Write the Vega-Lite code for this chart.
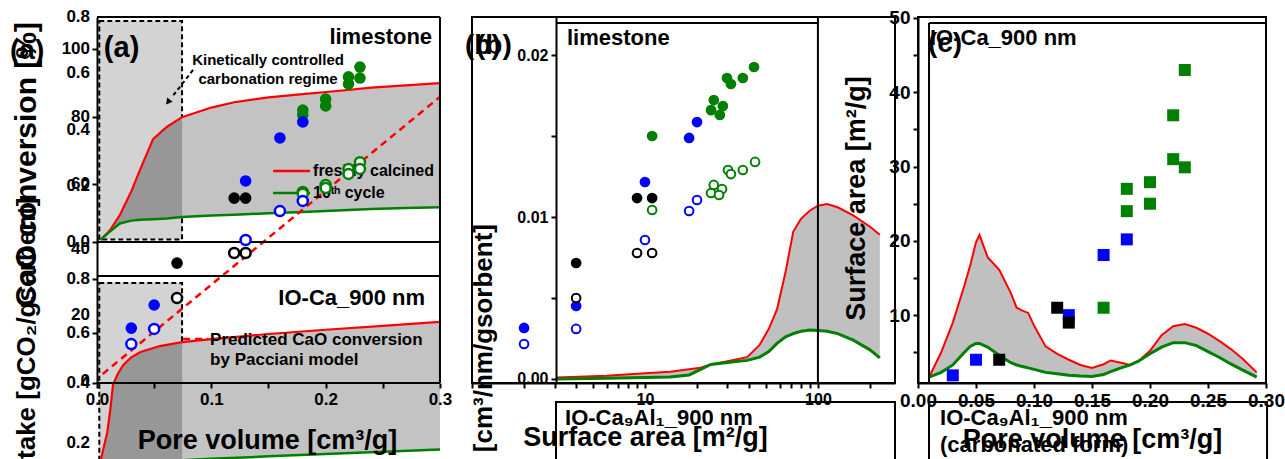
{
"$schema": "https://vega.github.io/schema/vega-lite/v6.json",
"background": "white",
"padding": {"left": 10, "top": 7, "right": 5, "bottom": 5},
"spacing": 23,
"bounds": "flush",
"config": {
  "font": "Liberation Sans",
  "axis": {"labelFontWeight": "bold", "titleFontWeight": "bold", "labelColor": "black", "titleColor": "black", "domainColor": "black", "tickColor": "black", "domainWidth": 2, "tickWidth": 2, "tickSize": 5, "labelPadding": 3, "grid": false, "zindex": 1, "labelOverlap": false, "labelFlush": false},
  "view": {"stroke": "black", "strokeWidth": 2},
  "text": {"fontWeight": "bold", "color": "black", "font": "Liberation Sans"}
},
"datasets": {
  "a_ticks": [
    {"tick": 0.8, "label": "0.8"},
    {"tick": 0.6862, "label": "100"},
    {"tick": 0.6, "label": "0.6"},
    {"tick": 0.4444, "label": "80"},
    {"tick": 0.4, "label": "0.4"},
    {"tick": 0.205, "label": "60"},
    {"tick": 0.2, "label": "0.2"},
    {"tick": 0, "label": "0.0"},
    {"tick": -0.025, "label": "40"},
    {"tick": -0.1316, "label": "0.8"},
    {"tick": -0.2596, "label": "20"},
    {"tick": -0.3236, "label": "0.6"},
    {"tick": -0.494, "label": "0"},
    {"tick": -0.5013, "label": "0.4"},
    {"tick": -0.7164, "label": "0.2"}
  ],
  "a_pts": [
    {"series": "S1", "state": "fresh", "pv": 0.18, "uptake": 0.469},
    {"series": "S1", "state": "fresh", "pv": 0.18, "uptake": 0.452},
    {"series": "S1", "state": "fresh", "pv": 0.2, "uptake": 0.508},
    {"series": "S1", "state": "fresh", "pv": 0.2, "uptake": 0.484},
    {"series": "S1", "state": "fresh", "pv": 0.22, "uptake": 0.587},
    {"series": "S1", "state": "fresh", "pv": 0.22, "uptake": 0.562},
    {"series": "S1", "state": "fresh", "pv": 0.23, "uptake": 0.622},
    {"series": "S1", "state": "fresh", "pv": 0.23, "uptake": 0.583},
    {"series": "S2", "state": "fresh", "pv": 0.16, "uptake": 0.37},
    {"series": "S2", "state": "fresh", "pv": 0.18, "uptake": 0.427},
    {"series": "S2", "state": "fresh", "pv": 0.13, "uptake": 0.217},
    {"series": "S2", "state": "fresh", "pv": 0.05, "uptake": -0.224},
    {"series": "S2", "state": "fresh", "pv": 0.03, "uptake": -0.306},
    {"series": "S3", "state": "fresh", "pv": 0.12, "uptake": 0.156},
    {"series": "S3", "state": "fresh", "pv": 0.13, "uptake": 0.156},
    {"series": "S3", "state": "fresh", "pv": 0.07, "uptake": -0.075},
    {"series": "S1", "state": "cycled", "pv": 0.18, "uptake": 0.178},
    {"series": "S1", "state": "cycled", "pv": 0.18, "uptake": 0.172},
    {"series": "S1", "state": "cycled", "pv": 0.2, "uptake": 0.203},
    {"series": "S1", "state": "cycled", "pv": 0.2, "uptake": 0.192},
    {"series": "S1", "state": "cycled", "pv": 0.22, "uptake": 0.26},
    {"series": "S1", "state": "cycled", "pv": 0.22, "uptake": 0.242},
    {"series": "S1", "state": "cycled", "pv": 0.23, "uptake": 0.284},
    {"series": "S1", "state": "cycled", "pv": 0.23, "uptake": 0.26},
    {"series": "S2", "state": "cycled", "pv": 0.16, "uptake": 0.11},
    {"series": "S2", "state": "cycled", "pv": 0.18, "uptake": 0.146},
    {"series": "S2", "state": "cycled", "pv": 0.13, "uptake": 0.007},
    {"series": "S2", "state": "cycled", "pv": 0.05, "uptake": -0.309},
    {"series": "S2", "state": "cycled", "pv": 0.03, "uptake": -0.363},
    {"series": "S3", "state": "cycled", "pv": 0.12, "uptake": -0.039},
    {"series": "S3", "state": "cycled", "pv": 0.13, "uptake": -0.039},
    {"series": "S3", "state": "cycled", "pv": 0.07, "uptake": -0.199}
  ],
  "a_band": [
    {"sample": "limestone", "zone": "kinetic", "pv": 0.003, "fresh": 0.007, "cycled": 0.007},
    {"sample": "limestone", "zone": "kinetic", "pv": 0.011, "fresh": 0.04, "cycled": 0.036},
    {"sample": "limestone", "zone": "kinetic", "pv": 0.02, "fresh": 0.096, "cycled": 0.066},
    {"sample": "limestone", "zone": "kinetic", "pv": 0.03, "fresh": 0.18, "cycled": 0.076},
    {"sample": "limestone", "zone": "kinetic", "pv": 0.038, "fresh": 0.26, "cycled": 0.079},
    {"sample": "limestone", "zone": "kinetic", "pv": 0.049, "fresh": 0.366, "cycled": 0.081},
    {"sample": "limestone", "zone": "kinetic", "pv": 0.061, "fresh": 0.409, "cycled": 0.084},
    {"sample": "limestone", "zone": "kinetic", "pv": 0.0744, "fresh": 0.444, "cycled": 0.089},
    {"sample": "limestone", "zone": "diffusion", "pv": 0.0744, "fresh": 0.444, "cycled": 0.089},
    {"sample": "limestone", "zone": "diffusion", "pv": 0.1, "fresh": 0.478, "cycled": 0.094},
    {"sample": "limestone", "zone": "diffusion", "pv": 0.12, "fresh": 0.497, "cycled": 0.097},
    {"sample": "limestone", "zone": "diffusion", "pv": 0.15, "fresh": 0.514, "cycled": 0.102},
    {"sample": "limestone", "zone": "diffusion", "pv": 0.18, "fresh": 0.526, "cycled": 0.107},
    {"sample": "limestone", "zone": "diffusion", "pv": 0.21, "fresh": 0.537, "cycled": 0.112},
    {"sample": "limestone", "zone": "diffusion", "pv": 0.24, "fresh": 0.549, "cycled": 0.117},
    {"sample": "limestone", "zone": "diffusion", "pv": 0.27, "fresh": 0.557, "cycled": 0.121},
    {"sample": "limestone", "zone": "diffusion", "pv": 0.3, "fresh": 0.565, "cycled": 0.124},
    {"sample": "IO-Ca", "zone": "kinetic", "pv": 0.003, "fresh": -0.78, "cycled": -0.8},
    {"sample": "IO-Ca", "zone": "kinetic", "pv": 0.009, "fresh": -0.676, "cycled": -0.795},
    {"sample": "IO-Ca", "zone": "kinetic", "pv": 0.0115, "fresh": -0.6, "cycled": -0.79},
    {"sample": "IO-Ca", "zone": "kinetic", "pv": 0.014, "fresh": -0.508, "cycled": -0.788},
    {"sample": "IO-Ca", "zone": "kinetic", "pv": 0.018, "fresh": -0.47, "cycled": -0.786},
    {"sample": "IO-Ca", "zone": "kinetic", "pv": 0.023, "fresh": -0.437, "cycled": -0.785},
    {"sample": "IO-Ca", "zone": "kinetic", "pv": 0.03, "fresh": -0.41, "cycled": -0.783},
    {"sample": "IO-Ca", "zone": "kinetic", "pv": 0.038, "fresh": -0.391, "cycled": -0.781},
    {"sample": "IO-Ca", "zone": "kinetic", "pv": 0.055, "fresh": -0.37, "cycled": -0.779},
    {"sample": "IO-Ca", "zone": "kinetic", "pv": 0.0744, "fresh": -0.356, "cycled": -0.776},
    {"sample": "IO-Ca", "zone": "diffusion", "pv": 0.0744, "fresh": -0.356, "cycled": -0.776},
    {"sample": "IO-Ca", "zone": "diffusion", "pv": 0.1, "fresh": -0.345, "cycled": -0.771},
    {"sample": "IO-Ca", "zone": "diffusion", "pv": 0.15, "fresh": -0.327, "cycled": -0.762},
    {"sample": "IO-Ca", "zone": "diffusion", "pv": 0.2, "fresh": -0.312, "cycled": -0.754},
    {"sample": "IO-Ca", "zone": "diffusion", "pv": 0.25, "fresh": -0.298, "cycled": -0.746},
    {"sample": "IO-Ca", "zone": "diffusion", "pv": 0.3, "fresh": -0.284, "cycled": -0.738}
  ],
  "b_pts": [
    {"series": "S1", "state": "fresh", "area": 11.0, "vol": 0.015},
    {"series": "S1", "state": "fresh", "area": 25.0, "vol": 0.01722},
    {"series": "S1", "state": "fresh", "area": 24.1, "vol": 0.0166},
    {"series": "S1", "state": "fresh", "area": 28.2, "vol": 0.01685},
    {"series": "S1", "state": "fresh", "area": 27.1, "vol": 0.0163},
    {"series": "S1", "state": "fresh", "area": 29.8, "vol": 0.01858},
    {"series": "S1", "state": "fresh", "area": 31.4, "vol": 0.01821},
    {"series": "S1", "state": "fresh", "area": 36.8, "vol": 0.01858},
    {"series": "S1", "state": "fresh", "area": 42.7, "vol": 0.01926},
    {"series": "S2", "state": "fresh", "area": 10.0, "vol": 0.01216},
    {"series": "S2", "state": "fresh", "area": 18.0, "vol": 0.01488},
    {"series": "S2", "state": "fresh", "area": 20.0, "vol": 0.01586},
    {"series": "S2", "state": "fresh", "area": 2.0, "vol": 0.00315},
    {"series": "S2", "state": "fresh", "area": 4.0, "vol": 0.00451},
    {"series": "S3", "state": "fresh", "area": 9.0, "vol": 0.01117},
    {"series": "S3", "state": "fresh", "area": 11.0, "vol": 0.01117},
    {"series": "S3", "state": "fresh", "area": 4.0, "vol": 0.00716},
    {"series": "S1", "state": "cycled", "area": 11.0, "vol": 0.01043},
    {"series": "S1", "state": "cycled", "area": 24.1, "vol": 0.01148},
    {"series": "S1", "state": "cycled", "area": 25.0, "vol": 0.01198},
    {"series": "S1", "state": "cycled", "area": 27.9, "vol": 0.01173},
    {"series": "S1", "state": "cycled", "area": 26.8, "vol": 0.01136},
    {"series": "S1", "state": "cycled", "area": 30.2, "vol": 0.0129},
    {"series": "S1", "state": "cycled", "area": 31.4, "vol": 0.01265},
    {"series": "S1", "state": "cycled", "area": 36.8, "vol": 0.0129},
    {"series": "S1", "state": "cycled", "area": 43.3, "vol": 0.0134},
    {"series": "S2", "state": "cycled", "area": 18.0, "vol": 0.01037},
    {"series": "S2", "state": "cycled", "area": 20.0, "vol": 0.01105},
    {"series": "S2", "state": "cycled", "area": 10.0, "vol": 0.00858},
    {"series": "S2", "state": "cycled", "area": 2.0, "vol": 0.00216},
    {"series": "S2", "state": "cycled", "area": 4.0, "vol": 0.00309},
    {"series": "S3", "state": "cycled", "area": 9.0, "vol": 0.00778},
    {"series": "S3", "state": "cycled", "area": 11.0, "vol": 0.00778},
    {"series": "S3", "state": "cycled", "area": 4.0, "vol": 0.005}
  ],
  "b_psd": [
    {"d": 3.1, "fresh": 0.0001, "cycled": 0.0},
    {"d": 6, "fresh": 0.0002, "cycled": 0.00005},
    {"d": 10, "fresh": 0.00035, "cycled": 0.0001},
    {"d": 14, "fresh": 0.00045, "cycled": 0.00012},
    {"d": 18, "fresh": 0.0006, "cycled": 0.00025},
    {"d": 21, "fresh": 0.0007, "cycled": 0.0006},
    {"d": 24, "fresh": 0.0009, "cycled": 0.0009},
    {"d": 30, "fresh": 0.0011, "cycled": 0.00102},
    {"d": 39, "fresh": 0.00135, "cycled": 0.00115},
    {"d": 46, "fresh": 0.0021, "cycled": 0.00135},
    {"d": 52, "fresh": 0.0031, "cycled": 0.0017},
    {"d": 58, "fresh": 0.0043, "cycled": 0.0022},
    {"d": 65, "fresh": 0.0066, "cycled": 0.0026},
    {"d": 72, "fresh": 0.0091, "cycled": 0.0028},
    {"d": 80, "fresh": 0.0099, "cycled": 0.00295},
    {"d": 90, "fresh": 0.0104, "cycled": 0.00302},
    {"d": 100, "fresh": 0.0107, "cycled": 0.003},
    {"d": 113, "fresh": 0.0108, "cycled": 0.00295},
    {"d": 130, "fresh": 0.0106, "cycled": 0.0028},
    {"d": 160, "fresh": 0.0101, "cycled": 0.0024},
    {"d": 200, "fresh": 0.0094, "cycled": 0.0018},
    {"d": 228, "fresh": 0.0089, "cycled": 0.0013}
  ],
  "c_pts": [
    {"series": "S1", "pv": 0.23, "area": 43.0},
    {"series": "S1", "pv": 0.22, "area": 36.9},
    {"series": "S1", "pv": 0.22, "area": 31.0},
    {"series": "S1", "pv": 0.23, "area": 29.9},
    {"series": "S1", "pv": 0.18, "area": 27.0},
    {"series": "S1", "pv": 0.18, "area": 24.0},
    {"series": "S1", "pv": 0.2, "area": 27.9},
    {"series": "S1", "pv": 0.2, "area": 25.0},
    {"series": "S1", "pv": 0.16, "area": 11.0},
    {"series": "S2", "pv": 0.18, "area": 20.2},
    {"series": "S2", "pv": 0.16, "area": 18.1},
    {"series": "S2", "pv": 0.13, "area": 10.0},
    {"series": "S2", "pv": 0.05, "area": 4.0},
    {"series": "S2", "pv": 0.03, "area": 1.9},
    {"series": "S3", "pv": 0.12, "area": 11.0},
    {"series": "S3", "pv": 0.13, "area": 9.0},
    {"series": "S3", "pv": 0.07, "area": 4.0}
  ],
  "c_psd": [
    {"pv": 0.0095, "fresh": 1.65, "cycled": 1.65},
    {"pv": 0.02, "fresh": 5.0, "cycled": 2.3},
    {"pv": 0.03, "fresh": 9.0, "cycled": 3.3},
    {"pv": 0.04, "fresh": 14.0, "cycled": 5.0},
    {"pv": 0.045, "fresh": 16.7, "cycled": 5.8},
    {"pv": 0.05, "fresh": 19.8, "cycled": 6.2},
    {"pv": 0.053, "fresh": 20.8, "cycled": 6.2},
    {"pv": 0.06, "fresh": 17.8, "cycled": 5.7},
    {"pv": 0.07, "fresh": 16.1, "cycled": 4.6},
    {"pv": 0.08, "fresh": 13.0, "cycled": 3.6},
    {"pv": 0.085, "fresh": 11.0, "cycled": 3.3},
    {"pv": 0.09, "fresh": 10.6, "cycled": 3.1},
    {"pv": 0.095, "fresh": 10.3, "cycled": 2.9},
    {"pv": 0.1, "fresh": 8.6, "cycled": 2.7},
    {"pv": 0.11, "fresh": 5.8, "cycled": 2.3},
    {"pv": 0.12, "fresh": 4.8, "cycled": 2.1},
    {"pv": 0.13, "fresh": 4.0, "cycled": 1.9},
    {"pv": 0.14, "fresh": 3.3, "cycled": 1.8},
    {"pv": 0.15, "fresh": 2.9, "cycled": 1.75},
    {"pv": 0.16, "fresh": 3.4, "cycled": 2.0},
    {"pv": 0.166, "fresh": 3.9, "cycled": 2.4},
    {"pv": 0.175, "fresh": 3.6, "cycled": 2.9},
    {"pv": 0.183, "fresh": 3.3, "cycled": 3.3},
    {"pv": 0.19, "fresh": 3.8, "cycled": 3.8},
    {"pv": 0.2, "fresh": 5.2, "cycled": 4.8},
    {"pv": 0.21, "fresh": 7.3, "cycled": 5.7},
    {"pv": 0.22, "fresh": 8.5, "cycled": 6.3},
    {"pv": 0.23, "fresh": 8.8, "cycled": 6.3},
    {"pv": 0.24, "fresh": 8.3, "cycled": 5.9},
    {"pv": 0.25, "fresh": 7.5, "cycled": 5.1},
    {"pv": 0.26, "fresh": 6.5, "cycled": 4.3},
    {"pv": 0.27, "fresh": 5.4, "cycled": 3.4},
    {"pv": 0.28, "fresh": 4.1, "cycled": 2.6},
    {"pv": 0.292, "fresh": 2.3, "cycled": 1.65}
  ]
},
"hconcat": [
{
  "width": 352, "height": 366,
  "view": {"stroke": null},
  "data": {"values": [{}]},
  "layer": [
    {"mark": {"type": "rect", "fill": "#d3d3d3", "stroke": "black", "strokeWidth": 2, "strokeDash": [5, 3]},
     "encoding": {
       "x": {"datum": 0.002, "type": "quantitative", "scale": {"domain": [0, 0.3079], "nice": false, "zero": false},
             "axis": {"title": "Pore volume [cm³/g]", "values": [0, 0.05, 0.1, 0.15, 0.2, 0.25, 0.3], "labelExpr": "abs(datum.value*10 - round(datum.value*10)) < 0.001 ? format(datum.value, '.1f') : ''", "labelFontSize": 17, "labelFlush": false, "labelOverlap": false, "domain": false, "titleFontSize": 27, "titleX": 170, "titleY": 65, "titleBaseline": "alphabetic", "titleAlign": "center", "zindex": 1}},
       "x2": {"datum": 0.0744},
       "y": {"datum": 0.786, "type": "quantitative", "scale": {"domain": [-0.5013, 0.8], "nice": false, "zero": false},
             "axis": {"title": "CO₂ uptake [gCO₂/gsorbent]", "values": [0.8, 0.6862, 0.6, 0.4444, 0.4, 0.205, 0.2, 0, -0.025, -0.1316, -0.2596, -0.3236, -0.494, -0.5013],
                      "labels": false, "titleFontSize": 26, "titleAngle": 270, "titleAlign": "right", "titleBaseline": "alphabetic", "titleX": -63, "titleY": 180, "zindex": 1}},
       "y2": {"datum": 0.009}}},
    {"mark": {"type": "rect", "fill": "#d3d3d3", "stroke": "black", "strokeWidth": 2, "strokeDash": [5, 3]},
     "encoding": {"x": {"datum": 0.002}, "x2": {"datum": 0.0744}, "y": {"datum": -0.1458}, "y2": {"datum": -0.85}}},
    {"data": {"name": "a_band"},
     "mark": {"type": "area"},
     "encoding": {"x": {"field": "pv", "type": "quantitative"}, "y": {"field": "fresh", "type": "quantitative"}, "y2": {"field": "cycled"},
                  "fill": {"field": "zone", "type": "nominal", "scale": {"domain": ["kinetic", "diffusion"], "range": ["#979797", "#c3c3c3"]}, "legend": null},
                  "detail": {"field": "sample"}}},
    {"data": {"name": "a_band"},
     "mark": {"type": "line", "color": "#ff0000", "strokeWidth": 2.2},
     "encoding": {"x": {"field": "pv", "type": "quantitative"}, "y": {"field": "fresh", "type": "quantitative"}, "detail": {"field": "sample"}}},
    {"data": {"name": "a_band"},
     "mark": {"type": "line", "color": "#008000", "strokeWidth": 2.5},
     "encoding": {"x": {"field": "pv", "type": "quantitative"}, "y": {"field": "cycled", "type": "quantitative"}, "detail": {"field": "sample"}}},
    {"mark": {"type": "rule", "color": "#ff0000", "strokeWidth": 2.5, "strokeDash": [7, 5]},
     "encoding": {"x": {"datum": 0.005}, "x2": {"datum": 0.3}, "y": {"datum": -0.469}, "y2": {"datum": 0.516}}},
    {"mark": {"type": "rule", "color": "#ff0000", "strokeWidth": 2.5, "strokeDash": [7, 5]},
     "encoding": {"x": {"datum": 0.0752}, "x2": {"datum": 0.0971}, "y": {"datum": -0.3449}}},
    {"mark": {"type": "rule", "color": "black", "strokeWidth": 2},
     "encoding": {"x": {"datum": 0}, "x2": {"datum": 0.3}, "y": {"datum": 0.8}}},
    {"mark": {"type": "rule", "color": "black", "strokeWidth": 2},
     "encoding": {"x": {"datum": 0.3}, "y": {"datum": -0.5013}, "y2": {"datum": 0.8}}},
    {"mark": {"type": "rule", "color": "black", "strokeWidth": 2},
     "encoding": {"x": {"datum": 0}, "x2": {"datum": 0.3}, "y": {"datum": 0}}},
    {"mark": {"type": "rule", "color": "black", "strokeWidth": 2},
     "encoding": {"x": {"datum": 0}, "x2": {"datum": 0.3}, "y": {"datum": -0.121}}},
    {"mark": {"type": "rule", "color": "black", "strokeWidth": 2},
     "encoding": {"x": {"datum": 0}, "x2": {"datum": 0.3}, "y": {"datum": -0.5013}}},
    {"mark": {"type": "rule", "color": "#ff0000", "strokeWidth": 2.5},
     "encoding": {"x": {"datum": 0.154}, "x2": {"datum": 0.1864}, "y": {"datum": 0.2524}}},
    {"mark": {"type": "rule", "color": "#008000", "strokeWidth": 2.5},
     "encoding": {"x": {"datum": 0.154}, "x2": {"datum": 0.1864}, "y": {"datum": 0.1742}}},
    {"mark": {"type": "text", "text": "freshly calcined", "fontSize": 16, "align": "left", "baseline": "alphabetic"},
     "encoding": {"x": {"datum": 0.189}, "y": {"datum": 0.2347}}},
    {"mark": {"type": "text", "text": "10ᵗʰ cycle", "fontSize": 16, "align": "left", "baseline": "alphabetic"},
     "encoding": {"x": {"datum": 0.189}, "y": {"datum": 0.1564}}},
    {"mark": {"type": "rule", "color": "black", "strokeWidth": 2, "strokeDash": [4, 3]},
     "encoding": {"x": {"datum": 0.084}, "x2": {"datum": 0.0656}, "y": {"datum": 0.6116}, "y2": {"datum": 0.5156}}},
    {"mark": {"type": "point", "shape": "triangle-up", "filled": true, "color": "black", "size": 50, "angle": 219, "opacity": 1},
     "encoding": {"x": {"datum": 0.0621}, "y": {"datum": 0.4978}}},
    {"data": {"name": "a_pts"},
     "transform": [{"filter": "datum.state == 'fresh'"}],
     "mark": {"type": "point", "shape": "circle", "filled": true, "size": 135, "opacity": 1},
     "encoding": {"x": {"field": "pv", "type": "quantitative"}, "y": {"field": "uptake", "type": "quantitative"},
                  "color": {"field": "series", "type": "nominal", "scale": {"domain": ["S1", "S2", "S3"], "range": ["#008000", "#0000ff", "#000000"]}, "legend": null}}},
    {"data": {"name": "a_pts"},
     "transform": [{"filter": "datum.state == 'cycled'"}],
     "mark": {"type": "point", "shape": "circle", "filled": false, "fill": "white", "strokeWidth": 2.5, "size": 100, "opacity": 1},
     "encoding": {"x": {"field": "pv", "type": "quantitative"}, "y": {"field": "uptake", "type": "quantitative"},
                  "color": {"field": "series", "type": "nominal", "scale": {"domain": ["S1", "S2", "S3"], "range": ["#008000", "#0000ff", "#000000"]}, "legend": null}}},
    {"mark": {"type": "text", "text": "limestone", "fontSize": 22, "align": "right", "baseline": "alphabetic"},
     "encoding": {"x": {"datum": 0.2931}, "y": {"datum": 0.704}}},
    {"mark": {"type": "text", "text": "(a)", "fontSize": 29, "align": "left", "baseline": "alphabetic"},
     "encoding": {"x": {"datum": 0.006}, "y": {"datum": 0.6578}}},
    {"mark": {"type": "text", "text": "(a)", "fontSize": 28, "align": "left", "baseline": "alphabetic"},
     "encoding": {"x": {"datum": -0.0761}, "y": {"datum": 0.6507}}},
    {"mark": {"type": "text", "text": ["Kinetically controlled", "carbonation regime"], "fontSize": 15, "lineHeight": 19, "align": "center", "baseline": "alphabetic"},
     "encoding": {"x": {"datum": 0.1496}, "y": {"datum": 0.6293}}},
    {"mark": {"type": "text", "text": "IO-Ca_900 nm", "fontSize": 22, "align": "right", "baseline": "alphabetic"},
     "encoding": {"x": {"datum": 0.287}, "y": {"datum": -0.224}}},
    {"mark": {"type": "text", "text": ["Predicted CaO conversion", "by Pacciani model"], "fontSize": 17, "lineHeight": 20, "align": "left", "baseline": "alphabetic"},
     "encoding": {"x": {"datum": 0.0989}, "y": {"datum": -0.3662}}},
    {"mark": {"type": "text", "text": "CaO conversion [%]", "fontSize": 30, "angle": 270, "align": "right", "baseline": "alphabetic"},
     "encoding": {"x": {"datum": -0.0534}, "y": {"datum": 0.7822}}},
    {"data": {"name": "a_ticks"},
     "mark": {"type": "text", "fontSize": 17, "align": "right", "baseline": "middle"},
     "encoding": {"x": {"datum": -0.0061}, "y": {"field": "tick", "type": "quantitative"}, "text": {"field": "label"}}}
  ]
},
{
  "width": 423, "height": 366,
  "data": {"values": [{}]},
  "layer": [
    {"data": {"name": "b_psd"},
     "mark": {"type": "area", "color": "#c0c0c0"},
     "encoding": {
       "x": {"field": "d", "type": "quantitative", "scale": {"type": "log", "domain": [1, 279], "nice": false},
             "axis": {"title": "Surface area [m²/g]", "values": [1, 2, 3, 4, 5, 6, 7, 8, 9, 10, 20, 30, 40, 50, 60, 70, 80, 90, 100, 200], "labelExpr": "datum.value == 10 ? '10' : datum.value == 100 ? '100' : ''", "labelFontSize": 16, "labelFlush": false, "labelOverlap": false, "titleFontSize": 27, "titleX": 173, "titleY": 62, "titleBaseline": "alphabetic", "titleAlign": "center", "zindex": 1}},
       "y": {"field": "fresh", "type": "quantitative", "scale": {"domain": [-0.000247, 0.022346], "nice": false, "zero": false},
             "axis": {"title": null, "offset": -84, "values": [0, 0.005, 0.01, 0.015, 0.02], "labelExpr": "datum.value == 0 ? '0.00' : datum.value == 0.01 ? '0.01' : datum.value == 0.02 ? '0.02' : ''", "labelFontSize": 16, "labelFlush": false, "labelOverlap": false, "zindex": 1}},
       "y2": {"field": "cycled"}}},
    {"data": {"name": "b_psd"},
     "mark": {"type": "line", "color": "#ff0000", "strokeWidth": 2},
     "encoding": {"x": {"field": "d", "type": "quantitative"}, "y": {"field": "fresh", "type": "quantitative"}}},
    {"data": {"name": "b_psd"},
     "mark": {"type": "line", "color": "#008000", "strokeWidth": 3},
     "encoding": {"x": {"field": "d", "type": "quantitative"}, "y": {"field": "cycled", "type": "quantitative"}}},
    {"mark": {"type": "rule", "color": "black", "strokeWidth": 2},
     "encoding": {"x": {"datum": 3.06}, "x2": {"datum": 100}, "y": {"datum": 0.02198}}},
    {"mark": {"type": "rule", "color": "black", "strokeWidth": 2},
     "encoding": {"x": {"datum": 100}, "y": {"datum": -0.000247}, "y2": {"datum": 0.022346}}},
    {"mark": {"type": "rect", "fill": "transparent", "stroke": "black", "strokeWidth": 2},
     "encoding": {"x": {"datum": 3.06}, "x2": {"datum": 279}, "y": {"datum": -0.00142}, "y2": {"datum": -0.012}}},
    {"data": {"name": "b_pts"},
     "transform": [{"filter": "datum.state == 'fresh'"}],
     "mark": {"type": "point", "shape": "circle", "filled": true, "size": 115, "opacity": 1},
     "encoding": {"x": {"field": "area", "type": "quantitative"}, "y": {"field": "vol", "type": "quantitative"},
                  "color": {"field": "series", "type": "nominal", "scale": {"domain": ["S1", "S2", "S3"], "range": ["#008000", "#0000ff", "#000000"]}, "legend": null}}},
    {"data": {"name": "b_pts"},
     "transform": [{"filter": "datum.state == 'cycled'"}],
     "mark": {"type": "point", "shape": "circle", "filled": false, "fill": "white", "strokeWidth": 2, "size": 75, "opacity": 1},
     "encoding": {"x": {"field": "area", "type": "quantitative"}, "y": {"field": "vol", "type": "quantitative"},
                  "color": {"field": "series", "type": "nominal", "scale": {"domain": ["S1", "S2", "S3"], "range": ["#008000", "#0000ff", "#000000"]}, "legend": null}}},
    {"mark": {"type": "text", "text": "limestone", "fontSize": 22, "align": "left", "baseline": "alphabetic"},
     "encoding": {"x": {"datum": 3.54}, "y": {"datum": 0.02062}}},
    {"mark": {"type": "text", "text": "(b)", "fontSize": 28, "align": "left", "baseline": "alphabetic"},
     "encoding": {"x": {"datum": 0.911}, "y": {"datum": 0.02006}}},
    {"mark": {"type": "text", "text": "(b)", "fontSize": 28, "align": "left", "baseline": "alphabetic"},
     "encoding": {"x": {"datum": 1.055}, "y": {"datum": 0.02006}}},
    {"mark": {"type": "text", "text": "IO-Ca₉Al₁_900 nm", "fontSize": 22, "align": "left", "baseline": "alphabetic"},
     "encoding": {"x": {"datum": 3.45}, "y": {"datum": -0.00284}}},
    {"mark": {"type": "text", "text": "Pore volume [cm³/nm/gsorbent]", "fontSize": 26, "angle": 270, "align": "right", "baseline": "alphabetic"},
     "encoding": {"x": {"datum": 1.305}, "y": {"datum": 0.00957}}}
  ]
},
{
  "width": 348, "height": 366,
  "data": {"values": [{}]},
  "layer": [
    {"data": {"name": "c_psd"},
     "mark": {"type": "area", "color": "#c0c0c0"},
     "encoding": {
       "x": {"field": "pv", "type": "quantitative", "scale": {"domain": [0, 0.3], "nice": false, "zero": false},
             "axis": {"title": "Pore volume [cm³/g]", "values": [0, 0.025, 0.05, 0.075, 0.1, 0.125, 0.15, 0.175, 0.2, 0.225, 0.25, 0.275, 0.3], "labelExpr": "abs(datum.value*20 - round(datum.value*20)) < 0.001 ? format(datum.value, '.2f') : ''", "labelFontSize": 19, "labelFlush": false, "labelOverlap": false, "titleFontSize": 27, "titleX": 174, "titleY": 64, "titleBaseline": "alphabetic", "titleAlign": "center", "zindex": 1}},
       "y": {"field": "fresh", "type": "quantitative", "scale": {"domain": [0.87, 50.13], "nice": false, "zero": false},
             "axis": {"title": "Surface area [m²/g]", "values": [5, 10, 15, 20, 25, 30, 35, 40, 45, 50], "labelExpr": "datum.value % 10 == 0 ? '' + datum.value : ''", "labelFontSize": 19, "labelFlush": false, "labelOverlap": false, "titleFontSize": 27, "titleAngle": 270, "titleAlign": "center", "titleBaseline": "alphabetic", "titleX": -54, "titleY": 181, "zindex": 1}},
       "y2": {"field": "cycled"}}},
    {"data": {"name": "c_psd"},
     "mark": {"type": "line", "color": "#ff0000", "strokeWidth": 2},
     "encoding": {"x": {"field": "pv", "type": "quantitative"}, "y": {"field": "fresh", "type": "quantitative"}}},
    {"data": {"name": "c_psd"},
     "mark": {"type": "line", "color": "#008000", "strokeWidth": 3},
     "encoding": {"x": {"field": "pv", "type": "quantitative"}, "y": {"field": "cycled", "type": "quantitative"}}},
    {"mark": {"type": "rule", "color": "black", "strokeWidth": 2},
     "encoding": {"x": {"datum": 0.0095}, "y": {"datum": 0.87}, "y2": {"datum": 49.32}}},
    {"mark": {"type": "rule", "color": "black", "strokeWidth": 2},
     "encoding": {"x": {"datum": 0.0095}, "x2": {"datum": 0.3}, "y": {"datum": 49.32}}},
    {"mark": {"type": "rect", "fill": "transparent", "stroke": "black", "strokeWidth": 2},
     "encoding": {"x": {"datum": 0.0095}, "x2": {"datum": 0.3009}, "y": {"datum": -1.69}, "y2": {"datum": -20}}},
    {"data": {"name": "c_pts"},
     "mark": {"type": "square", "filled": true, "size": 144, "opacity": 1},
     "encoding": {"x": {"field": "pv", "type": "quantitative"}, "y": {"field": "area", "type": "quantitative"},
                  "color": {"field": "series", "type": "nominal", "scale": {"domain": ["S1", "S2", "S3"], "range": ["#008000", "#0000ff", "#000000"]}, "legend": null}}},
    {"mark": {"type": "text", "text": "IO-Ca_900 nm", "fontSize": 22, "align": "left", "baseline": "alphabetic"},
     "encoding": {"x": {"datum": 0.0103}, "y": {"datum": 46.36}}},
    {"mark": {"type": "text", "text": "(c)", "fontSize": 28, "align": "left", "baseline": "alphabetic"},
     "encoding": {"x": {"datum": 0.0086}, "y": {"datum": 45.42}}},
    {"mark": {"type": "text", "text": ["IO-Ca₉Al₁_900 nm", "(carbonated form)"], "fontSize": 22, "lineHeight": 27, "align": "left", "baseline": "alphabetic"},
     "encoding": {"x": {"datum": 0.019}, "y": {"datum": -4.78}}}
  ]
}
]
}
